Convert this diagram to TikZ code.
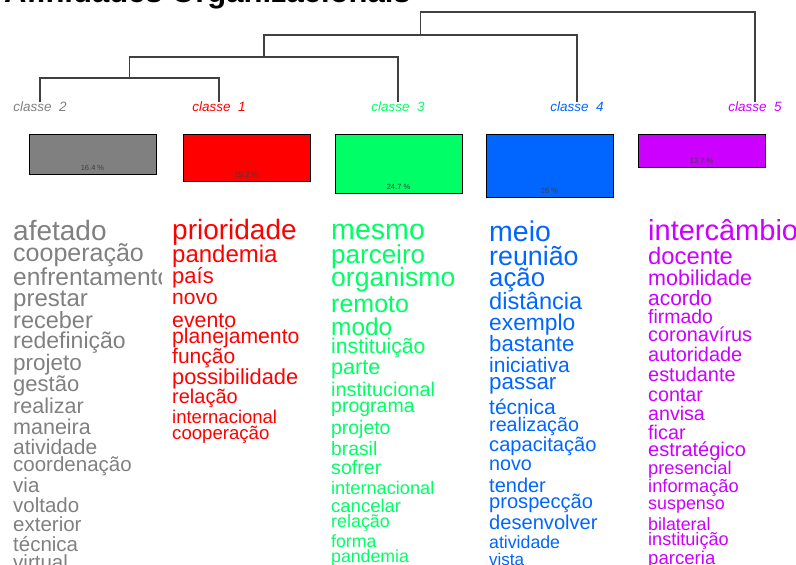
\documentclass[tikz,border=0pt]{standalone}
\usepackage{fontspec}
\setmainfont{Liberation Sans}
\usetikzlibrary{calc}

\definecolor{cgrey}{RGB}{128,128,128}
\definecolor{cred}{RGB}{255,0,0}
\definecolor{cgreen}{RGB}{0,255,102}
\definecolor{cblue}{RGB}{0,102,255}
\definecolor{cpurple}{RGB}{204,0,255}

\tikzset{
  word/.style={anchor=mid west, inner sep=0pt, yshift=-6pt},
  classlabel/.style={anchor=north, inner sep=0pt, font=\itshape\fontsize{13.5}{14}\selectfont},
  branch/.style={black!75, line width=1.3pt},
  share/.style={font=\fontsize{7.5}{8}\selectfont, text=black!75, inner sep=0pt},
}

\begin{document}
\begin{tikzpicture}[x=1pt,y=-1pt]
\useasboundingbox (0,0) rectangle (796,565);
\node[anchor=base west, inner sep=0pt, font=\bfseries\fontsize{31}{31}\selectfont] (title) at (4,2.5) {Afinidades Organizacionais};

% dendrogram
\node[classlabel, text=cgrey] (l2) at (40,102) {classe\ \ 2};
\node[classlabel, text=cred] (l1) at (219,102) {classe\ \ 1};
\node[classlabel, text=cgreen] (l3) at (398,102) {classe\ \ 3};
\node[classlabel, text=cblue] (l4) at (577,102) {classe\ \ 4};
\node[classlabel, text=cpurple] (l5) at (755,102) {classe\ \ 5};
\coordinate (m21) at (129.5,78);
\coordinate (m213) at (264,57);
\coordinate (m2134) at (420.5,35);
\coordinate (top) at (588,12);
\draw[branch] (l2.north) |- (m21) -| (l1.north);
\draw[branch] (m21) |- (m213) -| (l3.north);
\draw[branch] (m213) |- (m2134) -| (l4.north);
\draw[branch] (m2134) |- (top) -| (l5.north);

% class sizes
\foreach \c/\x/\h/\p [count=\i] in {cgrey/29/40/16.4, cred/183/47/19.2, cgreen/335/59/24.7, cblue/486/63/26, cpurple/638/33/13.7} {
  \draw[fill=\c, line width=0.9pt] (\x,134) rectangle ++(127,\h);
  \node[share] (p\i) at (\x+63.5,134+\h-6) {\p~\%};
}

% words
\begin{scope}
\clip (0,200) rectangle (161,565);
\foreach \w/\s/\y [count=\i] in {afetado/28/232, cooperação/25/253, enfrentamento/24.5/277, prestar/24/298, receber/23.5/320, redefinição/23/340, projeto/22.5/362, gestão/22/383, realizar/21.5/405, maneira/21.5/426, atividade/21/446, coordenação/20.5/463, via/20.5/484, voltado/20.5/504, exterior/20.5/523, técnica/20.5/543, virtual/20.5/561}
  \node[word, text=cgrey, font=\fontsize{\s}{\s}\selectfont] (grey\i) at (13,\y) {\w};
\end{scope}
\foreach \w/\s/\y [count=\i] in {prioridade/28/230.5, pandemia/24/253.5, país/22/275, novo/21/295.5, evento/21.3/318.5, planejamento/21.2/334.5, função/21/355, possibilidade/21.8/375.5, relação/20/395, internacional/18.5/415, cooperação/18.6/431}
  \node[word, text=cred, font=\fontsize{\s}{\s}\selectfont] (red\i) at (172,\y) {\w};
\foreach \w/\s/\y [count=\i] in {mesmo/28.6/230.5, parceiro/26/255, organismo/26.6/277.5, remoto/25/304, modo/24.4/326.5, instituição/21.2/344.5, parte/21.6/365.5, institucional/19.9/387.5, programa/19.5/403.5, projeto/19.4/425.5, brasil/19.3/446.5, sofrer/19.6/465.5, internacional/18.2/485.5, cancelar/18.5/504, relação/17.9/518.5, forma/17.7/538.5, pandemia/17.7/553.5}
  \node[word, text=cgreen, font=\fontsize{\s}{\s}\selectfont] (green\i) at (331,\y) {\w};
\foreach \w/\s/\y [count=\i] in {meio/28.5/233, reunião/26.8/256.5, ação/25.8/277.5, distância/23.6/300.5, exemplo/22.8/321.5, bastante/22.2/343, iniciativa/21/364, passar/22.4/381, técnica/21/405.5, realização/19.7/422.5, capacitação/20.1/442.5, novo/19.7/462, tender/20/483.5, prospecção/20.1/499.5, desenvolver/20.1/520.5, atividade/17.7/539.5, vista/17/557}
  \node[word, text=cblue, font=\fontsize{\s}{\s}\selectfont] (blue\i) at (489,\y) {\w};
\foreach \w/\s/\y [count=\i] in {intercâmbio/29/231.5, docente/23.8/256, mobilidade/21.5/277, acordo/20.9/296.5, firmado/19.4/314.5, coronavírus/19.9/333, autoridade/19.9/353, estudante/19.9/372.5, contar/19.7/392.5, anvisa/19.6/411.5, ficar/19.8/430.5, estratégico/20/447.5, presencial/18.3/466, informação/18.3/483.5, suspenso/17.9/500.5, bilateral/17.8/521.5, instituição/18.1/537, parceria/18.6/555.5}
  \node[word, text=cpurple, font=\fontsize{\s}{\s}\selectfont] (purple\i) at (648,\y) {\w};
\end{tikzpicture}
\end{document}
